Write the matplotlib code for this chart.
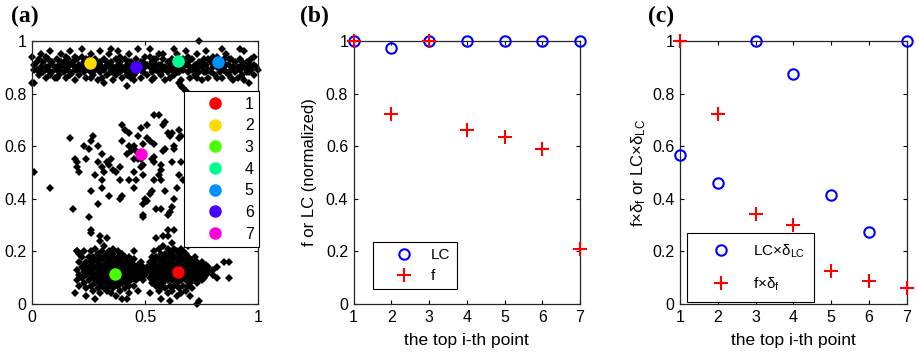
import matplotlib
matplotlib.use("Agg")
import matplotlib.pyplot as plt
from matplotlib.lines import Line2D

plt.rcParams['font.family'] = ['Liberation Sans', 'DejaVu Sans']
plt.rcParams['mathtext.fontset'] = 'custom'
plt.rcParams['mathtext.rm'] = 'Liberation Sans'
plt.rcParams['mathtext.it'] = 'Liberation Sans:italic'

# ---- panel (a): point cloud (values in percent of the unit square) ----
# top band: x -> list of y
top_band = {
    0: [94, 84], 1: [84, 91, 89], 2: [89, 92], 3: [93, 87], 4: [90, 95, 88],
    5: [92, 88], 6: [90, 86, 94], 7: [93, 89], 8: [91, 96, 87], 9: [88, 92],
    10: [90, 86], 11: [93, 89, 86], 12: [91, 87, 89], 13: [95, 90, 92],
    14: [88, 92], 15: [90, 86, 94], 16: [93, 89, 91], 17: [91, 96, 87],
    18: [88, 92], 19: [90, 85, 94], 20: [93, 89], 21: [91, 87, 89],
    22: [94, 90, 97], 23: [88, 92], 24: [90, 86, 93], 25: [93, 89, 91],
    26: [95, 88, 86], 27: [91, 87], 28: [93, 89, 91], 29: [90, 85],
    30: [92, 88, 96], 31: [90, 86], 32: [93, 89, 84], 33: [91, 87, 92],
    34: [95, 90], 35: [88, 92, 97], 36: [90, 85, 88], 37: [93, 89, 87],
    38: [91, 96, 89], 39: [88, 92, 94], 40: [90, 86], 41: [93, 89],
    42: [91, 87, 83], 43: [95, 90, 92], 44: [88, 92, 86], 45: [90, 85, 87],
    46: [93, 88, 91], 47: [91, 97, 89], 48: [89, 86, 92], 49: [92, 88],
    50: [90, 94], 51: [91, 87], 52: [94, 90, 97], 53: [88, 92, 85],
    54: [90, 86, 93], 55: [93, 89, 91], 56: [95, 88, 91], 57: [91, 87, 89],
    58: [93, 89, 95], 59: [90, 85], 60: [92, 88], 61: [90, 86],
    62: [93, 89, 91], 63: [91, 87, 97], 64: [95, 90, 88], 65: [88, 93, 84],
    66: [90, 85, 83], 67: [93, 89, 82], 68: [91, 96, 81], 69: [88, 92, 94],
    70: [90, 86], 71: [93, 89], 72: [91, 87, 89], 73: [95, 90, 86],
    74: [88, 92, 100], 75: [90, 85, 92], 76: [93, 88, 91], 77: [91, 96, 88],
    78: [89, 86, 93], 79: [92, 88], 80: [90, 94], 81: [91, 87],
    82: [94, 90, 86], 83: [88, 92, 90], 84: [90, 86, 97], 85: [93, 89, 91],
    86: [95, 88, 91], 87: [91, 87, 93], 88: [93, 89, 86], 89: [90, 85],
    90: [92, 88], 91: [90, 86], 92: [93, 89, 97], 93: [91, 87, 92],
    94: [96, 90, 85], 95: [88, 92, 89], 96: [90, 84, 88], 97: [93, 89, 91],
    98: [91, 87, 94], 99: [90], 100: [89],
}

# sparse middle cloud: (x, y)
middle_cloud = [
    (54, 72), (56, 72), (40, 68), (58, 68), (59, 69), (51, 68), (48, 67), (41, 66),
    (43, 65), (17, 63), (27, 64), (26, 62), (47, 64), (51, 63), (52, 62), (62, 65),
    (65, 66), (61, 64), (40, 62), (23, 60), (25, 59), (29, 60), (43, 60), (45, 60),
    (49, 61), (54, 61), (59, 59), (58, 58), (63, 60), (65, 63), (42, 57), (44, 58),
    (31, 57), (19, 55), (20, 54), (24, 55), (29, 54), (33, 54), (35, 55), (45, 55),
    (48, 55), (53, 55), (54, 54), (54, 56), (57, 53), (62, 54), (66, 54), (20, 52),
    (21, 50), (31, 52), (32, 50), (34, 53), (36, 51), (37, 50), (39, 52), (45, 50),
    (48, 52), (49, 53), (57, 51), (56, 49), (1, 50), (28, 49), (31, 47), (39, 47),
    (43, 47), (46, 47), (49, 49), (57, 47), (54, 47), (65, 49), (8, 44), (26, 43),
    (31, 44), (34, 41), (40, 41), (39, 40), (45, 44), (53, 43), (52, 42), (50, 40),
    (49, 38), (59, 43), (63, 40), (29, 38), (51, 39), (55, 36), (57, 36), (62, 37),
    (61, 35), (60, 34), (18, 36), (25, 33), (49, 34), (60, 65), (63, 59), (66, 64),
    (60, 28), (49, 33), (26, 28), (30, 26), (20, 20), (47, 55), (46, 58), (67, 47),
    (64, 44),
]

# lower-left dense blob: x -> list of y
left_blob = {
    19: [4], 20: [13, 9, 20], 21: [16, 11, 7, 19], 22: [14, 10, 18], 23: [12, 8, 15, 20],
    24: [16, 11, 6, 13, 3], 25: [14, 9, 18, 12], 26: [12, 7, 16, 20, 10, 27],
    27: [15, 10, 13, 5, 18], 28: [11, 14, 8, 17, 21, 2], 29: [13, 9, 16, 6, 19, 11],
    30: [12, 15, 8, 18, 10, 4, 24], 31: [14, 11, 17, 7, 20, 13],
    32: [12, 9, 15, 18, 6, 22, 10], 33: [13, 16, 10, 8, 19, 5, 14, 25],
    34: [11, 14, 17, 9, 20, 7, 12], 35: [13, 10, 16, 8, 18, 4, 15],
    36: [12, 15, 9, 19, 6, 21, 11], 37: [14, 11, 17, 8, 13, 3, 16],
    38: [12, 10, 15, 18, 7, 20, 13], 39: [11, 14, 9, 17, 5, 12],
    40: [13, 10, 16, 8, 19, 2, 12], 41: [12, 15, 9, 18, 6, 11],
    42: [14, 11, 16, 8, 13, 2], 43: [12, 10, 15, 7, 18, 4], 44: [13, 11, 16, 9, 14],
    45: [12, 15, 10, 7, 17, 20], 46: [14, 11, 13, 9], 47: [12, 15, 10, 5],
    48: [13, 11, 16], 49: [12, 14, 9], 50: [13, 11],
}

# lower-right dense blob: x -> list of y
right_blob = {
    51: [12, 14], 52: [13, 10, 16, 4], 53: [11, 15, 8, 18], 54: [13, 9, 16, 20, 11],
    55: [12, 15, 7, 18, 10, 25], 56: [14, 11, 17, 8, 21, 5],
    57: [12, 16, 9, 19, 13, 6, 2], 58: [14, 11, 17, 8, 22, 12, 26],
    59: [13, 10, 16, 19, 6, 14], 60: [12, 15, 9, 18, 4, 21, 11, 26],
    61: [14, 11, 17, 7, 20, 13, 1], 62: [12, 16, 9, 19, 5, 23, 10],
    63: [13, 10, 15, 18, 7, 21, 28], 64: [11, 14, 17, 8, 20, 3, 12],
    65: [13, 10, 16, 19, 6, 15], 66: [12, 15, 9, 18, 4, 21, 11],
    67: [14, 11, 17, 7, 20, 13], 68: [12, 16, 9, 19, 5, 10],
    69: [13, 10, 15, 18, 7, 22], 70: [11, 14, 17, 8, 12, 3, 24],
    71: [13, 10, 16, 6, 15], 72: [12, 15, 9, 18, 11, 23], 73: [14, 11, 8, 16, 0],
    74: [12, 15, 10, 13, 1], 75: [13, 11, 16, 9], 76: [12, 14, 10], 77: [13, 15, 11],
    78: [12, 14], 80: [13, 11], 82: [14, 10], 85: [16], 87: [10, 16],
}

# cluster centres (labels 1..7)
center_x = [0.644, 0.258, 0.365, 0.644, 0.822, 0.461, 0.483]
center_y = [0.121, 0.918, 0.115, 0.924, 0.920, 0.900, 0.569]
center_labels = ['1', '2', '3', '4', '5', '6', '7']
center_colors = ['#ff0000', '#ffdb00', '#49ff00', '#00ff92', '#0092ff', '#4900ff', '#ff00db']

# ---- panels (b) and (c) ----
rank = [1, 2, 3, 4, 5, 6, 7]
lc_norm = [1.0, 0.972, 1.0, 1.0, 1.0, 1.0, 1.0]
f_norm = [1.0, 0.721, 1.0, 0.662, 0.634, 0.588, 0.208]
lc_delta = [0.565, 0.461, 1.0, 0.875, 0.416, 0.273, 1.0]
f_delta = [1.0, 0.721, 0.342, 0.302, 0.125, 0.087, 0.061]


def unpack(d):
    xs, ys = [], []
    for x, yl in d.items():
        for y in yl:
            xs.append(x / 100)
            ys.append(y / 100)
    return xs, ys


def style_axes(ax):
    ax.tick_params(direction='in', top=True, right=True, length=3, width=0.8,
                   labelsize=11.5, pad=4)
    for s in ax.spines.values():
        s.set_linewidth(0.9)
        s.set_color('#262626')


fig = plt.figure(figsize=(9.17, 3.55), dpi=100)

# (a)
ax1 = fig.add_axes([0.0349, 0.1437, 0.2465, 0.741])
for cloud in (top_band, left_blob, right_blob):
    xs, ys = unpack(cloud)
    ax1.plot(xs, ys, 'D', color='k', ms=3.8, mew=0, clip_on=False)
ax1.plot([p[0] / 100 for p in middle_cloud], [p[1] / 100 for p in middle_cloud],
         'D', color='k', ms=3.8, mew=0)
handles = []
for cx, cy, lab, col in zip(center_x, center_y, center_labels, center_colors):
    ax1.plot(cx, cy, 'o', color=col, ms=8, mec=col, zorder=5)
    handles.append(Line2D([], [], ls='none', marker='o', color=col, ms=8, mec=col))
ax1.set_xlim(0, 1)
ax1.set_ylim(0, 1)
ax1.set_xticks([0, 0.5, 1])
ax1.set_xticklabels(['0', '0.5', '1'])
ax1.set_yticks([0, 0.2, 0.4, 0.6, 0.8, 1])
ax1.set_yticklabels(['0', '0.2', '0.4', '0.6', '0.8', '1'])
style_axes(ax1)
leg = ax1.legend(handles, center_labels, loc='upper left', bbox_to_anchor=(0.673, 0.81),
                 fontsize=11.5, numpoints=1, handlelength=3.2, handletextpad=0.25,
                 borderpad=0.35, labelspacing=0.42, fancybox=False, framealpha=1,
                 edgecolor='k', borderaxespad=0)
leg.get_frame().set_linewidth(0.8)
leg.set_zorder(10)

# (b)
ax2 = fig.add_axes([0.3857, 0.1437, 0.2468, 0.741])
ax2.plot(rank, lc_norm, 'o', ms=7.5, mfc='none', mec='b', mew=1.5, clip_on=False,
         label='LC', zorder=4)
ax2.plot(rank, f_norm, '+', ms=10, color='r', mew=1.5, clip_on=False, label='f', zorder=5)
ax2.set_xlim(1, 7)
ax2.set_ylim(0, 1)
ax2.set_xticks(rank)
ax2.set_yticks([0, 0.2, 0.4, 0.6, 0.8, 1])
ax2.set_yticklabels(['0', '0.2', '0.4', '0.6', '0.8', '1'])
style_axes(ax2)
ax2.set_xlabel('the top i-th point', fontsize=12.5, labelpad=6)
ax2.set_ylabel('f or LC (normalized)', fontsize=12, labelpad=6)
leg = ax2.legend(loc='lower left', bbox_to_anchor=(0.085, 0.057), fontsize=11,
                 numpoints=1, handlelength=3.3, handletextpad=0.1, borderpad=0.4,
                 labelspacing=0.45, fancybox=False, framealpha=1, edgecolor='k',
                 borderaxespad=0)
leg.get_frame().set_linewidth(0.8)

# (c)
ax3 = fig.add_axes([0.7416, 0.1437, 0.2471, 0.741])
ax3.plot(rank, lc_delta, 'o', ms=7.5, mfc='none', mec='b', mew=1.5, clip_on=False,
         label='LC×δ$_{\\mathrm{LC}}$', zorder=4)
ax3.plot(rank, f_delta, '+', ms=10, color='r', mew=1.5, clip_on=False,
         label='f×δ$_{\\mathrm{f}}$', zorder=5)
ax3.set_xlim(1, 7)
ax3.set_ylim(0, 1)
ax3.set_xticks(rank)
ax3.set_yticks([0, 0.2, 0.4, 0.6, 0.8, 1])
ax3.set_yticklabels(['0', '0.2', '0.4', '0.6', '0.8', '1'])
style_axes(ax3)
ax3.set_xlabel('the top i-th point', fontsize=12.5, labelpad=6)
ax3.set_ylabel('f×δ$_{\\mathrm{f}}$ or LC×δ$_{\\mathrm{LC}}$', fontsize=12, labelpad=3)
leg = ax3.legend(loc='lower left', bbox_to_anchor=(0.031, 0.008), fontsize=11,
                 numpoints=1, handlelength=3.2, handletextpad=0.5, borderpad=0.6,
                 labelspacing=1.0, fancybox=False, framealpha=1, edgecolor='k',
                 borderaxespad=0)
leg.get_frame().set_linewidth(0.8)

# panel tags
for x, tag in [(0.012, '(a)'), (0.327, '(b)'), (0.707, '(c)')]:
    fig.text(x, 0.955, tag, fontsize=17, fontweight='bold', family='Liberation Serif',
             va='center', ha='left')

fig.savefig('out.png', dpi=100)
